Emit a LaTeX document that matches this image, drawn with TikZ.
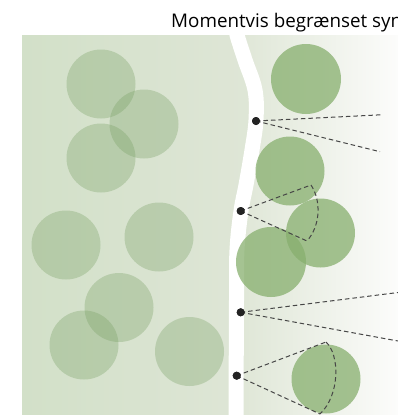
\documentclass[tikz,border=0pt]{standalone}
\usepackage{fontspec}
\setmainfont{Open Sans}
\definecolor{leftL}{RGB}{210,224,200}
\definecolor{leftR}{RGB}{223,230,215}
\definecolor{rightL}{RGB}{221,229,212}
\definecolor{rightR}{RGB}{252,252,251}
\definecolor{treeA}{RGB}{120,160,100}
\definecolor{treeB}{RGB}{135,175,110}
\definecolor{dotc}{RGB}{35,35,35}
\definecolor{dashc}{RGB}{70,70,70}
\tikzset{
  faint/.style={circle,fill=treeA,fill opacity=0.33,minimum size=69pt,inner sep=0pt},
  strong/.style={circle,fill=treeB,fill opacity=0.75,minimum size=69pt,inner sep=0pt},
  eye/.style={circle,fill=dotc,minimum size=8pt,inner sep=0pt},
  sight/.style={draw=dashc,line width=1pt,dash pattern=on 4.5pt off 3pt}
}
\begin{document}
\begin{tikzpicture}[x=1pt,y=-1pt]
\useasboundingbox (0,0) rectangle (398,415);
% right panel
\shade[left color=rightL,right color=rightR] (230,35) rectangle (398,415);
% left panel
\shade[left color=leftL,right color=leftR] (22,35) -- plot[smooth,tension=0.6] coordinates {(237,35) (245,60) (255,90) (256,120) (252,150) (246,185) (241,211) (237,250) (236.5,300) (236,415)} -- (22,415) -- cycle;
% white path
\draw[white,line width=15pt] plot[smooth,tension=0.6] coordinates {(237,30) (237,35) (245,60) (255,90) (256,120) (252,150) (246,185) (241,211) (237,250) (236.5,300) (236,420)};
% title
\node[anchor=base west,inner sep=0pt,font=\fontsize{18.8}{21}\selectfont] (title) at (171,27.7) {Momentvis begrænset syn};
% left trees
\node[faint] (l1) at (101,84) {};
\node[faint] (l2) at (144,124) {};
\node[faint] (l3) at (101,158) {};
\node[faint] (l4) at (66,245) {};
\node[faint] (l5) at (159,237) {};
\node[faint] (l6) at (119,307.5) {};
\node[faint] (l7) at (84,345) {};
\node[faint] (l8) at (189.5,351.5) {};
% right trees
\node[strong,minimum size=70pt] (r1) at (306,79) {};
\node[strong] (r2) at (290,171) {};
\node[strong] (r3) at (320.5,233) {};
\node[strong,minimum size=70pt] (r4) at (271,262) {};
\node[strong] (r5) at (326,379) {};
% sight lines
\coordinate (a1) at (383,114.7);
\coordinate (a2) at (380,151.7);
\coordinate (b1) at (311,185);
\coordinate (b2) at (307,241);
\coordinate (c1) at (398,292.5);
\coordinate (c2) at (398,341);
\coordinate (d1) at (326,342);
\coordinate (d2) at (320,414);
\node[eye] (p1) at (256,121) {};
\node[eye] (p2) at (240.7,211) {};
\node[eye] (p3) at (240.7,312.3) {};
\node[eye] (p4) at (236.7,375.7) {};
\draw[sight] (p1.center) -- (a1);
\draw[sight] (p1.center) -- (a2);
\draw[sight] (p2.center) -- (b1);
\draw[sight] (p2.center) -- (b2);
\draw[sight] (b1) .. controls (321,200) and (321,225) .. (b2);
\draw[sight] (p3.center) -- (c1);
\draw[sight] (p3.center) -- (c2);
\draw[sight] (p4.center) -- (d1);
\draw[sight] (p4.center) -- (d2);
\draw[sight] (d1) .. controls (340,355) and (340,395) .. (d2);
\node[eye] at (p1) {};
\node[eye] at (p2) {};
\node[eye] at (p3) {};
\node[eye] at (p4) {};
\end{tikzpicture}
\end{document}
